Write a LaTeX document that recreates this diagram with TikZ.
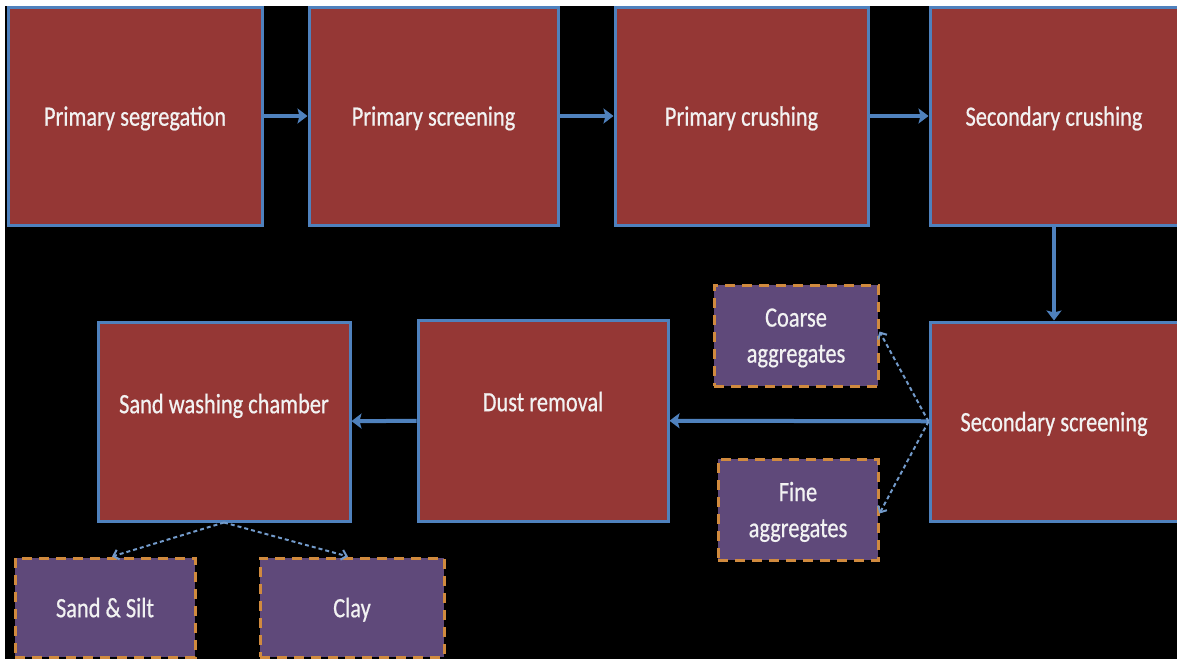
\documentclass[tikz,border=0pt]{standalone}
\usepackage{fontspec}
\setmainfont{Carlito}[FakeStretch=0.8,FakeBold=0.6]
\usetikzlibrary{arrows.meta}

\definecolor{brick}{HTML}{953735}
\definecolor{edgeblue}{HTML}{4F81BD}
\definecolor{plum}{HTML}{5F497A}
\definecolor{amber}{HTML}{D08A3E}
\definecolor{chalk}{HTML}{F2F2F2}

\begin{document}
\begin{tikzpicture}[x=1pt,y=-1pt,
  stage/.style={draw=edgeblue, line width=3pt, fill=brick, text=chalk,
    font=\fontsize{28}{36}\selectfont, inner sep=0pt, text depth=0pt},
  product/.style={draw=amber, line width=3pt, dash pattern=on 10pt off 7pt,
    fill=plum, text=chalk, font=\fontsize{28}{36}\selectfont, align=center,
    inner sep=0pt, text depth=0pt},
  flow/.style={draw=edgeblue, line width=4pt, -{Stealth[length=10pt,width=15pt,inset=2pt]}},
  split/.style={draw=edgeblue!80!white, line width=2pt, dash pattern=on 4pt off 3pt,
    -{Straight Barb[length=5pt,width=10pt]}}]

\useasboundingbox (0,0) rectangle (1177,659);
\fill[white] (0,0) rectangle (1177,659);
\fill[black] (5,6) rectangle (1177,659);

% top row
\node[stage, minimum width=254pt, minimum height=218pt] (seg) at (135,116) {Primary segregation};
\node[stage, minimum width=249pt, minimum height=218pt] (scr1) at (433.5,116) {Primary screening};
\node[stage, minimum width=253pt, minimum height=218pt] (cr1) at (741.5,116) {Primary crushing};
\node[stage, minimum width=248pt, minimum height=218pt] (cr2) at (1054,116) {Secondary crushing};

% bottom row
\node[stage, minimum width=248pt, minimum height=199pt] (scr2) at (1054,421.5) {Secondary screening};
\node[stage, minimum width=250pt, minimum height=201pt,
  label={[stage, draw=none, fill=none, yshift=19pt]center:Dust removal}] (dust) at (543,420.5) {};
\node[stage, minimum width=252pt, minimum height=199pt,
  label={[stage, draw=none, fill=none, yshift=18pt]center:Sand washing chamber}] (wash) at (224,421.5) {};

% outputs
\node[product, minimum width=164pt, minimum height=101pt] (coarse) at (796,335.5) {Coarse\\aggregates};
\node[product, minimum width=160pt, minimum height=101pt] (fine) at (798,509.5) {Fine\\aggregates};
\node[product, minimum width=180pt, minimum height=99pt] (silt) at (105,607.5) {Sand \& Silt};
\node[product, minimum width=184pt, minimum height=99pt] (clay) at (352,607.5) {Clay};

\draw[flow] (seg) -- (scr1);
\draw[flow] (scr1) -- (cr1);
\draw[flow] (cr1) -- (cr2);
\draw[flow] (cr2) -- (scr2);
\draw[flow] (scr2) -- (dust);
\draw[flow] (dust) -- (wash);

\draw[split] (scr2.west) -- ([yshift=4pt]coarse.east);
\draw[split] (scr2.west) -- ([yshift=-4pt]fine.east);
\draw[split] (wash.south) -- ([xshift=7pt]silt.north);
\draw[split] (wash.south) -- ([xshift=-4pt]clay.north);

\end{tikzpicture}
\end{document}
